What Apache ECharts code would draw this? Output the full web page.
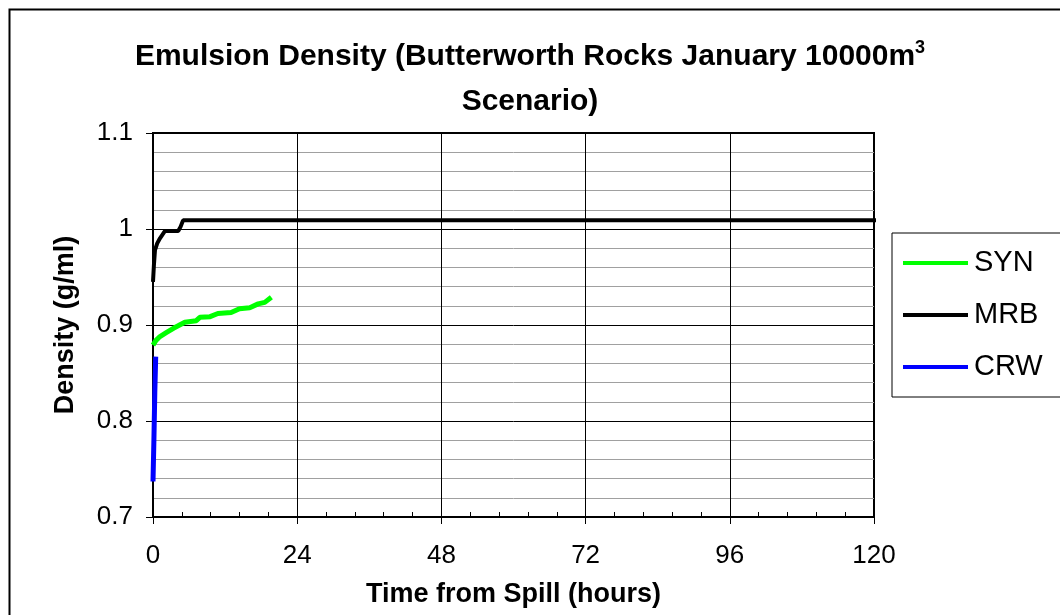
<!DOCTYPE html>
<html>
<head>
<meta charset="utf-8">
<script src="https://cdn.jsdelivr.net/npm/echarts@6/dist/echarts.min.js"></script>
<style>
html,body{margin:0;padding:0;background:#fff;}
#chart{width:1060px;height:615px;}
</style>
</head>
<body>
<div id="chart"></div>
<script>
// ---- data ----
var synTime = [0, 0.5, 1.16, 2.2, 3.4, 5.3, 7.2, 7.8, 9.5, 10.8, 13.0, 14.4, 16.1, 17.5, 18.6, 19.7];
var synDensity = [0.879, 0.884, 0.888, 0.892, 0.8966, 0.9028, 0.9045, 0.908, 0.9087, 0.912, 0.913, 0.917, 0.918, 0.922, 0.9236, 0.929];

var mrbTime = [0, 0.15, 0.33, 0.7, 1.16, 2.0, 3.0, 4.2, 4.6, 5.0, 10, 24, 48, 72, 96, 120, 121.3];
var mrbDensity = [0.945, 0.962, 0.978, 0.985, 0.9903, 0.998, 0.998, 0.998, 1.0025, 1.009, 1.009, 1.009, 1.009, 1.009, 1.009, 1.009, 1.009];

var crwTime = [0, 0.15, 0.3, 0.45];
var crwDensity = [0.737, 0.78, 0.83, 0.867];

var seriesNames = ['SYN', 'MRB', 'CRW'];
var xTicks = { min: 0, max: 120, step: 24 };
var yTicks = { min: 0.7, max: 1.1, step: 0.1 };

function pairs(t, v) { return t.map(function (x, i) { return [x, v[i]]; }); }

var FONT = '"Liberation Sans", Arial, sans-serif';
var chart = echarts.init(document.getElementById('chart'), null, { renderer: 'canvas' });

var option = {
  backgroundColor: '#fff',
  animation: false,
  title: [
    {
      text: '{a|Emulsion Density (Butterworth Rocks January 10000m}{s|3}',
      left: 'center',
      top: 34,
      textStyle: {
        rich: {
          a: { fontFamily: FONT, fontWeight: 'bold', fontSize: 30, color: '#000', lineHeight: 36 },
          s: { fontFamily: FONT, fontWeight: 'bold', fontSize: 18, color: '#000', verticalAlign: 'top', lineHeight: 36 }
        }
      }
    },
    {
      text: 'Scenario)',
      left: 'center',
      top: 82,
      textStyle: { fontFamily: FONT, fontWeight: 'bold', fontSize: 30, color: '#000' }
    }
  ],
  graphic: [
    { type: 'rect', left: 7, top: 7, shape: { width: 1070, height: 630 }, style: { fill: null, stroke: '#000', lineWidth: 2 }, silent: true }
  ],
  legend: {
    orient: 'vertical',
    left: 892,
    top: 233,
    data: seriesNames,
    icon: 'rect',
    itemWidth: 65,
    itemHeight: 4,
    itemGap: 22,
    padding: [15, 20, 15, 11],
    borderColor: '#000',
    borderWidth: 1,
    backgroundColor: '#fff',
    textStyle: { fontFamily: FONT, fontSize: 29, color: '#000', lineHeight: 30, padding: [0, 0, 0, 1] }
  },
  grid: {
    left: 153, right: 186, top: 133, bottom: 98,
    show: true, borderColor: '#000', borderWidth: 2, backgroundColor: 'transparent'
  },
  xAxis: [
    {
      type: 'value',
      min: xTicks.min, max: xTicks.max, interval: xTicks.step,
      name: 'Time from Spill (hours)',
      nameLocation: 'middle',
      nameGap: 64,
      nameTextStyle: { fontFamily: FONT, fontWeight: 'bold', fontSize: 27, color: '#000' },
      axisLine: { show: true, onZero: false, lineStyle: { color: '#000', width: 2 } },
      axisTick: { show: true, inside: false, length: 7, lineStyle: { color: '#000', width: 1 } },
      axisLabel: { fontFamily: FONT, fontSize: 26, color: '#000', margin: 26 },
      splitLine: { show: true, lineStyle: { color: '#000', width: 1 } },
      minorTick: { show: false },
      minorSplitLine: { show: false }
    },
    {
      type: 'value',
      gridIndex: 0,
      position: 'bottom',
      min: xTicks.min, max: xTicks.max, interval: xTicks.step,
      axisLine: { show: false, onZero: false },
      axisTick: { show: false, inside: true },
      axisLabel: { show: false },
      splitLine: { show: false },
      minorTick: { show: true, splitNumber: 5, length: 5, lineStyle: { color: '#000', width: 1 } }
    }
  ],
  yAxis: {
    type: 'value',
    min: yTicks.min, max: yTicks.max, interval: yTicks.step,
    name: 'Density (g/ml)',
    nameLocation: 'middle',
    nameGap: 74,
    nameTextStyle: { fontFamily: FONT, fontWeight: 'bold', fontSize: 27, color: '#000' },
    axisLine: { show: true, onZero: false, lineStyle: { color: '#000', width: 2 } },
    axisTick: { show: true, inside: false, length: 7, lineStyle: { color: '#000', width: 1 } },
    axisLabel: { fontFamily: FONT, fontSize: 26, color: '#000', margin: 20 },
    splitLine: { show: true, lineStyle: { color: '#000', width: 1 } },
    minorTick: { show: false, splitNumber: 5 },
    minorSplitLine: { show: true, lineStyle: { color: '#a0a0a0', width: 1 } }
  },
  series: [
    {
      name: 'SYN', type: 'line', xAxisIndex: 0, data: pairs(synTime, synDensity),
      showSymbol: false, symbol: 'none', clip: false,
      lineStyle: { color: '#00ff00', width: 5 }, itemStyle: { color: '#00ff00' }, z: 3
    },
    {
      name: 'MRB', type: 'line', xAxisIndex: 0, data: pairs(mrbTime, mrbDensity),
      showSymbol: false, symbol: 'none', clip: false,
      lineStyle: { color: '#000000', width: 4 }, itemStyle: { color: '#000000' }, z: 4
    },
    {
      name: 'CRW', type: 'line', xAxisIndex: 0, data: pairs(crwTime, crwDensity),
      showSymbol: false, symbol: 'none', clip: false,
      lineStyle: { color: '#0000ff', width: 5 }, itemStyle: { color: '#0000ff' }, z: 5
    }
  ]
};
chart.setOption(option);
</script>
</body>
</html>
